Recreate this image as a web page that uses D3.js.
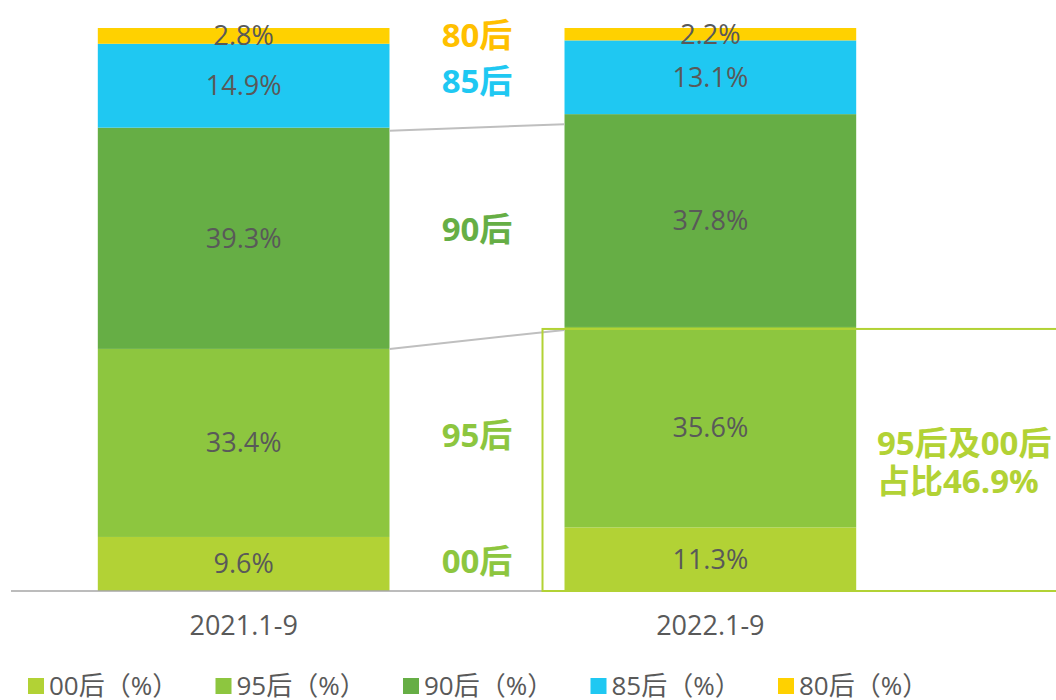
<!DOCTYPE html>
<html>
<head>
<meta charset="utf-8">
<script src="https://cdn.jsdelivr.net/npm/d3@7"></script>
<style>
  body { margin: 0; background: #fff; }
  svg { display: block; font-family: "Open Sans", "Noto Sans CJK SC", sans-serif; }
</style>
</head>
<body>
<div id="chart"></div>
<script>
const periods = ["2021.1-9", "2022.1-9"];
const groups = ["00后", "95后", "90后", "85后", "80后"];
const share2021 = [9.6, 33.4, 39.3, 14.9, 2.8];
const share2022 = [11.3, 35.6, 37.8, 13.1, 2.2];
const groupColors = ["#B2D235", "#8DC63F", "#66AE45", "#1FC8F2", "#FFD100"];
const sideLabelColors = ["#8DC63F", "#8DC63F", "#66AE45", "#1FC8F2", "#FFC000"];
const highlightLines = ["95后及00后", "占比46.9%"];

const width = 1056, height = 700;
const baseY = 591, topY = 28;

const rows = periods.map((p, i) => {
    const row = { period: p };
    const vals = i === 0 ? share2021 : share2022;
    groups.forEach((g, j) => row[g] = vals[j]);
    return row;
});
const series = d3.stack().keys(groups)(rows);

const svg = d3.select("#chart").append("svg")
    .attr("width", width)
    .attr("height", height);

const x = d3.scaleBand()
    .domain(periods)
    .range([11, 943])
    .paddingInner(0.375)
    .paddingOuter(0.186);

const y = d3.scaleLinear()
    .domain([0, 100])
    .range([baseY, topY]);

// stacked bars
svg.append("g").selectAll("g")
    .data(series)
    .enter().append("g")
    .attr("fill", (d, i) => groupColors[i])
    .selectAll("rect")
    .data(d => d)
    .enter().append("rect")
    .attr("x", d => x(d.data.period))
    .attr("y", d => y(d[1]))
    .attr("width", x.bandwidth())
    .attr("height", d => y(d[0]) - y(d[1]));

// value labels
series.forEach(s => {
    svg.append("g").selectAll("text")
        .data(s)
        .enter().append("text")
        .attr("x", d => x(d.data.period) + x.bandwidth() / 2)
        .attr("y", d => (y(d[0]) + y(d[1])) / 2)
        .attr("dy", "0.35em")
        .attr("text-anchor", "middle")
        .attr("font-size", 27)
        .attr("fill", "#595959")
        .text(d => d.data[s.key].toFixed(1) + "%");
});

// connector lines between bars
const [p0, p1] = periods;
const connectors = [
    { key: "90后", drop: [3, 10] },
    { key: "95后", drop: [0, 3] }
];
connectors.forEach(c => {
    const s = series[groups.indexOf(c.key)];
    svg.append("line")
        .attr("x1", x(p0) + x.bandwidth())
        .attr("y1", y(s[0][1]) + c.drop[0])
        .attr("x2", x(p1))
        .attr("y2", y(s[1][1]) + c.drop[1])
        .attr("stroke", "#BFBFBF")
        .attr("stroke-width", 2);
});

// axis line + category labels
svg.append("line")
    .attr("x1", 11).attr("x2", width)
    .attr("y1", baseY).attr("y2", baseY)
    .attr("stroke", "#A6A6A6")
    .attr("stroke-width", 1.5);

const xAxis = svg.append("g")
    .attr("transform", `translate(0,${baseY})`)
    .call(d3.axisBottom(x).tickSize(0).tickPadding(25));
xAxis.select(".domain").remove();
xAxis.selectAll("text")
    .attr("font-size", 27)
    .attr("font-family", "Open Sans, sans-serif")
    .attr("fill", "#595959");

// group labels between the bars
const midX = (x(p0) + x.bandwidth() + x(p1)) / 2;
svg.append("g").selectAll("text")
    .data(series)
    .enter().append("text")
    .attr("x", midX)
    .attr("y", s => (y(s[0][0]) + y(s[0][1]) + y(s[1][0]) + y(s[1][1])) / 4)
    .attr("dy", "0.35em")
    .attr("text-anchor", "middle")
    .attr("font-size", 33)
    .attr("font-weight", "bold")
    .attr("fill", (d, i) => sideLabelColors[i])
    .text(s => s.key);

// highlight box for 95后 + 00后 in 2022
const top95 = series[1][1][1];
svg.append("rect")
    .attr("x", x(p1) - 22)
    .attr("y", y(top95) + 2)
    .attr("width", width - x(p1) + 40)
    .attr("height", baseY - y(top95) - 2)
    .attr("fill", "none")
    .attr("stroke", "#B2D235")
    .attr("stroke-width", 2);

svg.append("g").selectAll("text")
    .data(highlightLines)
    .enter().append("text")
    .attr("x", 877)
    .attr("y", (d, i) => 455 + i * 38)
    .attr("font-size", 33)
    .attr("font-weight", "bold")
    .attr("fill", "#B2D235")
    .text(d => d);

// legend
const legend = svg.append("g")
    .selectAll("g")
    .data(groups)
    .enter().append("g")
    .attr("transform", (d, i) => `translate(${28 + i * 187.5},678)`);

legend.append("rect")
    .attr("width", 16)
    .attr("height", 16)
    .attr("fill", (d, i) => groupColors[i]);

legend.append("text")
    .attr("x", 21)
    .attr("y", 8)
    .attr("dy", "0.36em")
    .attr("font-size", 26)
    .attr("fill", "#595959")
    .text(d => d + "（%）");
</script>
</body>
</html>
